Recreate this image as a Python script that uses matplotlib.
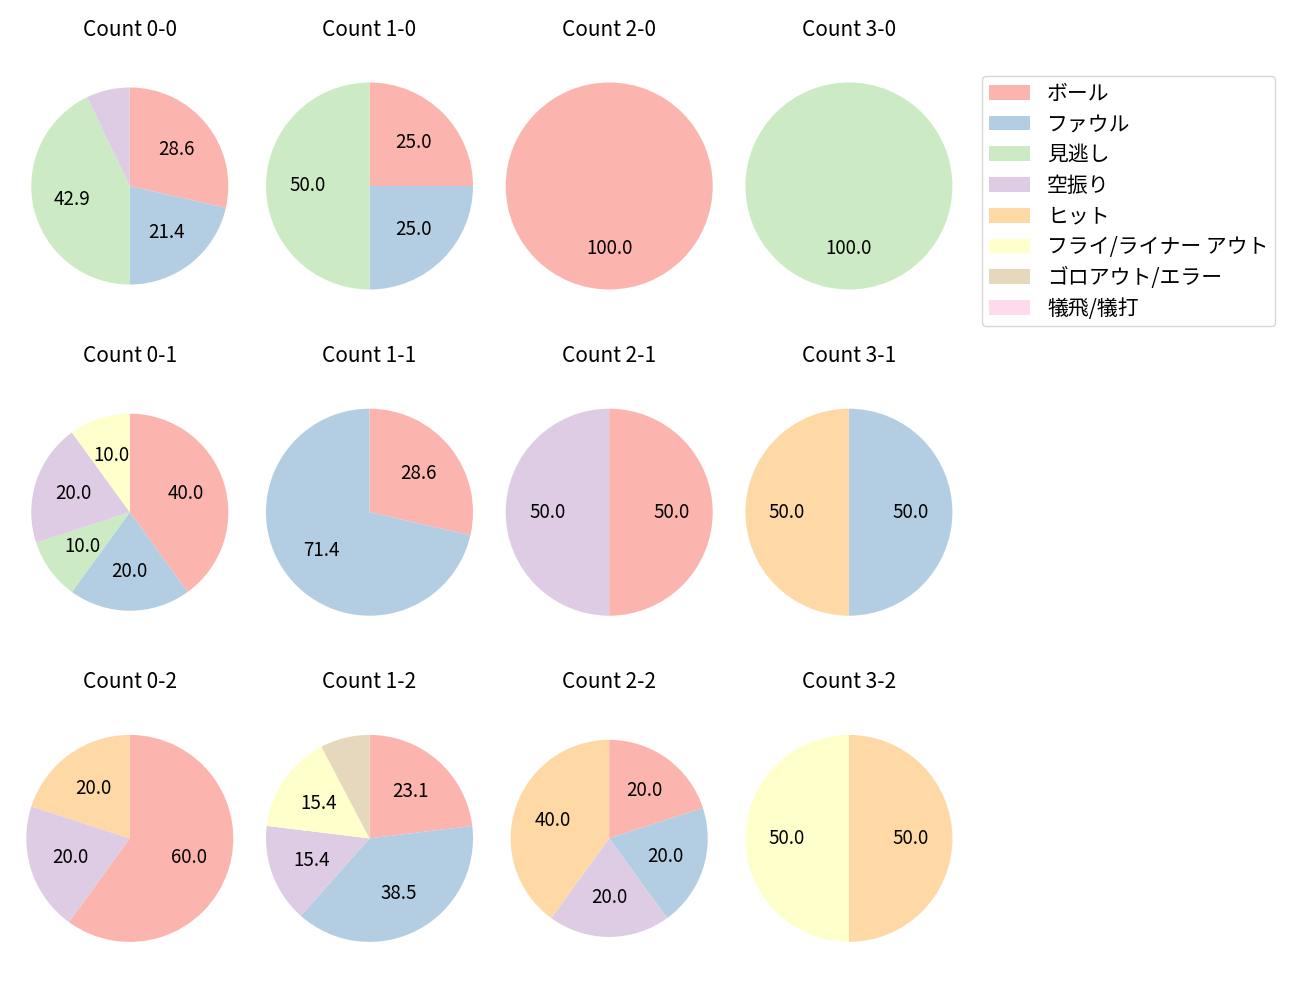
import matplotlib
matplotlib.use('Agg')
import matplotlib.pyplot as plt
from matplotlib.patches import Patch

plt.rcParams['font.family'] = ['Noto Sans CJK JP', 'DejaVu Sans']

# ---- data -------------------------------------------------------------
outcomes = ['ボール', 'ファウル', '見逃し', '空振り', 'ヒット',
            'フライ/ライナー アウト', 'ゴロアウト/エラー', '犠飛/犠打']
count_labels = ['0-0', '1-0', '2-0', '3-0',
                '0-1', '1-1', '2-1', '3-1',
                '0-2', '1-2', '2-2', '3-2']
# pitches per outcome (order as in `outcomes`)
count_0_0 = [4, 3, 6, 1, 0, 0, 0, 0]
count_1_0 = [1, 1, 2, 0, 0, 0, 0, 0]
count_2_0 = [1, 0, 0, 0, 0, 0, 0, 0]
count_3_0 = [0, 0, 1, 0, 0, 0, 0, 0]
count_0_1 = [4, 2, 1, 2, 0, 1, 0, 0]
count_1_1 = [2, 5, 0, 0, 0, 0, 0, 0]
count_2_1 = [1, 0, 0, 1, 0, 0, 0, 0]
count_3_1 = [0, 1, 0, 0, 1, 0, 0, 0]
count_0_2 = [3, 0, 0, 1, 1, 0, 0, 0]
count_1_2 = [3, 5, 0, 2, 0, 2, 1, 0]
count_2_2 = [1, 1, 0, 1, 2, 0, 0, 0]
count_3_2 = [0, 0, 0, 0, 1, 1, 0, 0]

values_by_count = [count_0_0, count_1_0, count_2_0, count_3_0,
                   count_0_1, count_1_1, count_2_1, count_3_1,
                   count_0_2, count_1_2, count_2_2, count_3_2]

# ---- style / layout ---------------------------------------------------
colors = plt.get_cmap('Pastel1').colors[:8]
W, H = 1300, 1000
ax_w, ax_h = 227.7, 283.4
col_x0, col_step = 129.8, 239.7
row_y0, row_step = 186.0, 326.2
pie_scale = {'0-0': 0.952, '0-1': 0.952, '2-2': 0.952}


def fmt(p):
    return f'{p:.1f}' if p >= 9.5 else ''


fig = plt.figure(figsize=(13, 10), dpi=100)

for i, (lab, vals) in enumerate(zip(count_labels, values_by_count)):
    r, c = divmod(i, 4)
    cx = col_x0 + col_step * c
    cy = row_y0 + row_step * r
    rect = [(cx - ax_w / 2) / W, 1 - (cy + ax_h / 2) / H, ax_w / W, ax_h / H]
    ax = fig.add_axes(rect)
    ax.pie(vals, colors=colors, startangle=90, counterclock=False,
           radius=pie_scale.get(lab, 1.0), autopct=fmt, pctdistance=0.6,
           textprops=dict(fontsize=13.5, color='black'))
    ax.set_xlim(-1.1, 1.1)
    yl = 1.1 * ax_h / ax_w
    ax.set_ylim(-yl, yl)
    ax.set_aspect('equal', adjustable='box')
    ax.set_title(f'Count {lab}', fontsize=15, pad=6)

handles = [Patch(facecolor=col) for col in colors]
fig.legend(handles, outcomes, loc='upper left',
           bbox_to_anchor=(982 / W, 1 - 76 / H), borderaxespad=0,
           fontsize=15, frameon=True, labelspacing=0.418, borderpad=0.32)

fig.savefig('out.png', dpi=100)
